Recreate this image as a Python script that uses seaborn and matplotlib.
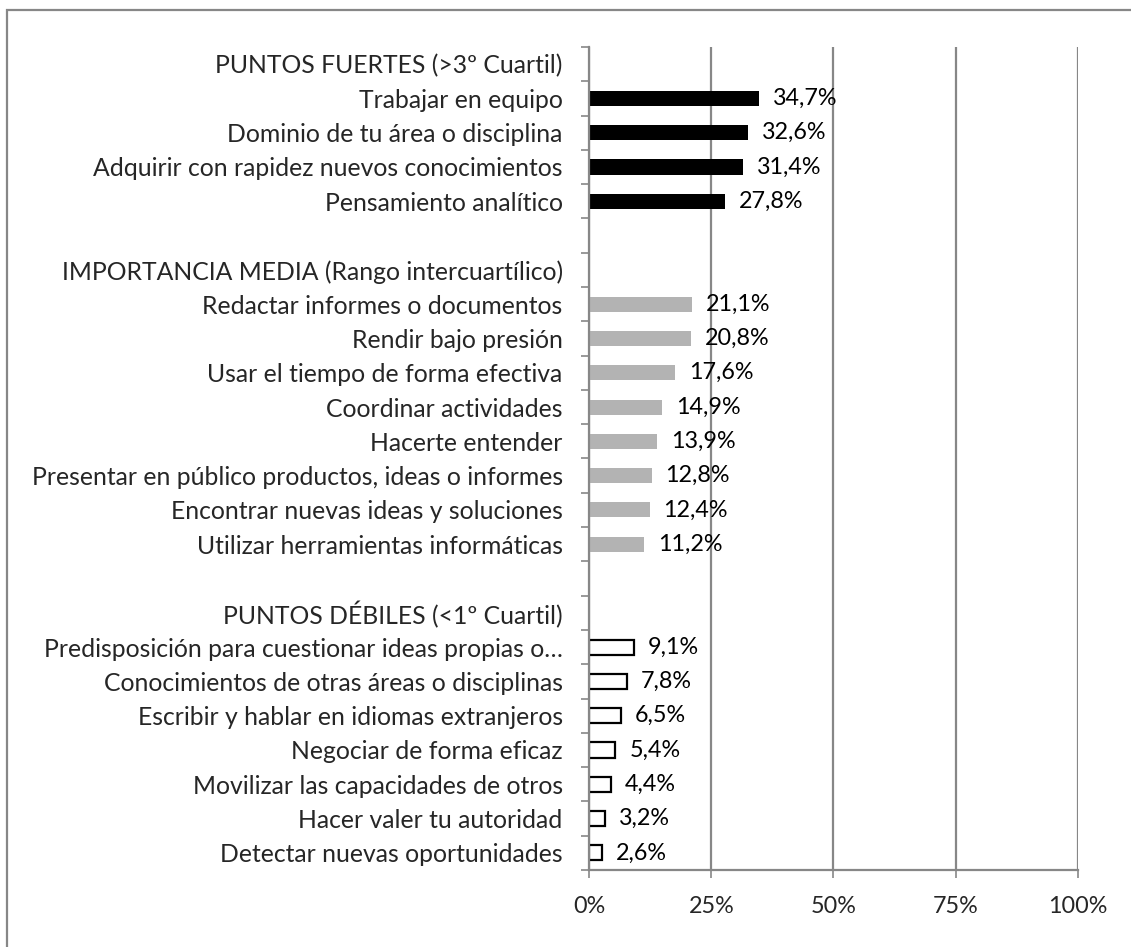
import numpy as np
import pandas as pd
import seaborn as sns
import matplotlib.pyplot as plt
from matplotlib.ticker import FixedLocator, PercentFormatter

# Categories, in display order (blank strings are spacer rows)
labels = [
    'PUNTOS FUERTES (>3º Cuartil)',
    'Trabajar en equipo',
    'Dominio de tu área o disciplina',
    'Adquirir con rapidez nuevos conocimientos',
    'Pensamiento analítico',
    ' ',
    'IMPORTANCIA MEDIA (Rango intercuartílico)',
    'Redactar informes o documentos',
    'Rendir bajo presión',
    'Usar el tiempo de forma efectiva',
    'Coordinar actividades',
    'Hacerte entender',
    'Presentar en público productos, ideas o informes',
    'Encontrar nuevas ideas y soluciones',
    'Utilizar herramientas informáticas',
    '  ',
    'PUNTOS DÉBILES (<1º Cuartil)',
    'Predisposición para cuestionar ideas propias o…',
    'Conocimientos de otras áreas o disciplinas',
    'Escribir y hablar en idiomas extranjeros',
    'Negociar de forma eficaz',
    'Movilizar las capacidades de otros',
    'Hacer valer tu autoridad',
    'Detectar nuevas oportunidades',
]
values = [np.nan, 34.7, 32.6, 31.4, 27.8,
          np.nan, np.nan, 21.1, 20.8, 17.6, 14.9, 13.9, 12.8, 12.4, 11.2,
          np.nan, np.nan, 9.1, 7.8, 6.5, 5.4, 4.4, 3.2, 2.6]
groups = ['fuerte'] * 6 + ['media'] * 10 + ['debil'] * 8

df = pd.DataFrame({'label': labels, 'valor': values, 'grupo': groups})
colores = {'fuerte': '#000000', 'media': '#b3b3b3', 'debil': '#ffffff'}

sns.set_style('white')
plt.rcParams['font.family'] = ['Lato', 'DejaVu Sans']

fig = plt.figure(figsize=(11.31, 9.47), dpi=100)
ax = fig.add_axes([0.5208, 0.0813, 0.4323, 0.8691])

sns.barplot(data=df, x='valor', y='label', hue='grupo', order=labels,
            palette=colores, dodge=False, width=0.44, legend=False,
            orient='h', ax=ax, linewidth=0)

# outline the white bars
for p in ax.patches:
    fc = p.get_facecolor()
    if fc[0] > 0.9 and fc[1] > 0.9:
        p.set_edgecolor('black')
        p.set_linewidth(1.6)

# value labels
for i, v in enumerate(values):
    if not np.isnan(v):
        ax.annotate(f'{v:.1f}'.replace('.', ',') + '%', xy=(v, i),
                    xytext=(10, 0), textcoords='offset points',
                    va='center', ha='left', fontsize=16.8, color='black')

gris = '#878787'
ax.set_xlim(0, 100)
ax.set_ylim(len(labels) - 0.5, -0.5)
ax.set_xticks([0, 25, 50, 75, 100])
ax.xaxis.set_major_formatter(PercentFormatter(decimals=0))
ax.grid(axis='x', color=gris, linewidth=1.6)
ax.set_axisbelow(True)

ax.yaxis.set_minor_locator(FixedLocator(np.arange(-0.5, len(labels), 1)))
ax.tick_params(axis='y', which='major', length=0, pad=19, labelsize=17.8)
ax.tick_params(axis='y', which='minor', left=True, length=6, width=1.2,
               color=gris, direction='out')
ax.tick_params(axis='x', bottom=True, length=6, width=1.2, color=gris,
               direction='out', pad=13, labelsize=16.8)
ax.set_xlabel('')
ax.set_ylabel('')

for side in ['top', 'right']:
    ax.spines[side].set_visible(False)
for side in ['left', 'bottom']:
    ax.spines[side].set_color(gris)
    ax.spines[side].set_linewidth(1.6)

# outer chart border
fig.patches.append(plt.Rectangle((7 / 1131, -0.05), 1.1, 1 - 10 / 947 + 0.05,
                                 transform=fig.transFigure, fill=False,
                                 edgecolor=gris, linewidth=1.6))

plt.savefig('out.png', dpi=100)
plt.close()
